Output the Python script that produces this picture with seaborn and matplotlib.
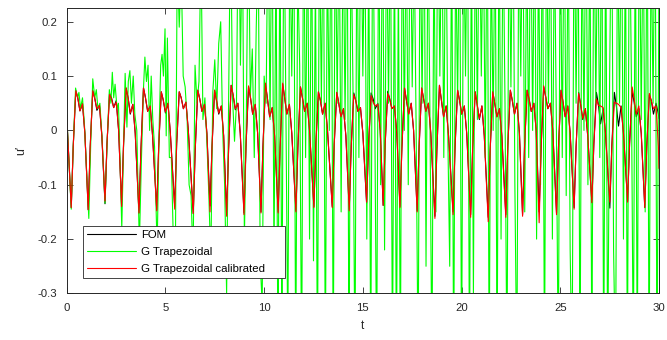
import numpy as np
import pandas as pd
import matplotlib
matplotlib.use("Agg")
import matplotlib.pyplot as plt
import seaborn as sns

# ---- series labels and colours ----
series_names = ["FOM", "G Trapezoidal", "G Trapezoidal calibrated"]
series_colors = ["#000000", "#00ff00", "#ff0000"]

x_ticks = [0, 5, 10, 15, 20, 25, 30]
x_tick_labels = ["0", "5", "10", "15", "20", "25", "30"]
y_ticks = [-0.3, -0.2, -0.1, 0.0, 0.1, 0.2]
y_tick_labels = ["-0.3", "-0.2", "-0.1", "0", "0.1", "0.2"]

# ---- full order model: sample times and u' ----
fom_t = [
    0.00,
    0.23, 0.33, 0.46, 0.56, 0.67, 0.80, 0.92,
    1.09, 1.19, 1.32, 1.42, 1.53, 1.66, 1.78,
    1.94, 2.04, 2.17, 2.27, 2.38, 2.51, 2.63,
    2.78, 2.88, 3.01, 3.11, 3.22, 3.35, 3.47,
    3.66, 3.76, 3.89, 3.99, 4.10, 4.23, 4.35,
    4.56, 4.66, 4.79, 4.89, 5.00, 5.13, 5.25,
    5.47, 5.57, 5.70, 5.80, 5.91, 6.04, 6.16,
    6.41, 6.51, 6.64, 6.74, 6.85, 6.98, 7.10,
    7.26, 7.36, 7.49, 7.59, 7.70, 7.83, 7.95,
    8.10, 8.20, 8.33, 8.43, 8.54, 8.67, 8.79,
    8.98, 9.08, 9.21, 9.31, 9.42, 9.55, 9.67,
    9.84, 9.94, 10.07, 10.17, 10.28, 10.41, 10.53,
    10.71, 10.81, 10.94, 11.04, 11.15, 11.28, 11.40,
    11.61, 11.71, 11.84, 11.94, 12.05, 12.18, 12.30,
    12.52, 12.62, 12.75, 12.85, 12.96, 13.09, 13.21,
    13.45, 13.55, 13.68, 13.78, 13.89, 14.02, 14.14,
    14.31, 14.41, 14.54, 14.64, 14.75, 14.88, 15.00,
    15.19, 15.29, 15.42, 15.52, 15.63, 15.76, 15.88,
    16.03, 16.13, 16.26, 16.36, 16.47, 16.60, 16.72,
    16.88, 16.98, 17.11, 17.21, 17.32, 17.45, 17.57,
    17.75, 17.85, 17.98, 18.08, 18.19, 18.32, 18.44,
    18.65, 18.75, 18.88, 18.98, 19.09, 19.22, 19.34,
    19.57, 19.67, 19.80, 19.90, 20.01, 20.14, 20.26,
    20.46, 20.56, 20.69, 20.79, 20.90, 21.03, 21.15,
    21.35, 21.45, 21.58, 21.68, 21.79, 21.92, 22.04,
    22.24, 22.34, 22.47, 22.57, 22.68, 22.81, 22.93,
    23.09, 23.19, 23.32, 23.42, 23.53, 23.66, 23.78,
    23.93, 24.03, 24.16, 24.26, 24.37, 24.50, 24.62,
    24.81, 24.91, 25.04, 25.14, 25.25, 25.38, 25.50,
    25.70, 25.80, 25.93, 26.03, 26.14, 26.27, 26.39,
    26.60, 26.70, 26.83, 26.93, 27.04, 27.17, 27.29,
    27.51, 27.61, 27.74, 27.84, 27.95, 28.08, 28.20,
    28.41, 28.51, 28.64, 28.74, 28.85, 28.98, 29.10,
    29.28, 29.38, 29.51, 29.61, 29.72, 29.85, 29.97,
    30.00,
]

fom_u = [
    0.028,
    -0.142, -0.030, 0.073, 0.060, 0.036, 0.049, -0.005,
    -0.146, -0.030, 0.073, 0.060, 0.037, 0.046, -0.010,
    -0.135, -0.025, 0.068, 0.060, 0.042, 0.055, 0.000,
    -0.138, -0.025, 0.078, 0.060, 0.030, 0.048, -0.005,
    -0.152, -0.035, 0.078, 0.060, 0.035, 0.045, -0.010,
    -0.146, -0.030, 0.071, 0.056, 0.032, 0.050, -0.005,
    -0.140, -0.025, 0.071, 0.060, 0.040, 0.052, 0.000,
    -0.153, -0.035, 0.074, 0.058, 0.035, 0.048, -0.005,
    -0.139, -0.030, 0.074, 0.055, 0.030, 0.045, -0.010,
    -0.155, -0.035, 0.083, 0.065, 0.038, 0.050, -0.005,
    -0.152, -0.030, 0.080, 0.060, 0.030, 0.048, -0.005,
    -0.150, -0.030, 0.084, 0.058, 0.025, 0.042, -0.010,
    -0.150, -0.030, 0.085, 0.060, 0.030, 0.048, -0.005,
    -0.148, -0.030, 0.080, 0.060, 0.035, 0.050, 0.000,
    -0.140, -0.025, 0.071, 0.055, 0.030, 0.050, 0.000,
    -0.140, -0.025, 0.070, 0.050, 0.025, 0.040, -0.010,
    -0.145, -0.030, 0.069, 0.055, 0.035, 0.042, -0.005,
    -0.134, -0.025, 0.069, 0.058, 0.040, 0.050, 0.000,
    -0.138, -0.025, 0.072, 0.058, 0.040, 0.045, -0.005,
    -0.140, -0.030, 0.078, 0.055, 0.030, 0.050, 0.000,
    -0.148, -0.030, 0.078, 0.058, 0.035, 0.050, -0.005,
    -0.158, -0.035, 0.083, 0.055, 0.025, 0.045, -0.010,
    -0.150, -0.030, 0.074, 0.055, 0.030, 0.045, -0.005,
    -0.155, -0.035, 0.071, 0.048, 0.020, 0.045, -0.010,
    -0.160, -0.035, 0.071, 0.050, 0.025, 0.040, -0.010,
    -0.155, -0.030, 0.074, 0.055, 0.030, 0.050, -0.005,
    -0.155, -0.030, 0.074, 0.058, 0.035, 0.050, 0.000,
    -0.150, -0.030, 0.080, 0.062, 0.040, 0.050, 0.000,
    -0.152, -0.030, 0.074, 0.052, 0.025, 0.045, -0.005,
    -0.142, -0.030, 0.070, 0.048, 0.020, 0.040, -0.010,
    -0.133, -0.025, 0.070, 0.048, 0.012, 0.040, -0.005,
    -0.143, -0.030, 0.070, 0.045, 0.008, 0.045, -0.005,
    -0.130, -0.025, 0.072, 0.052, 0.025, 0.040, -0.005,
    -0.142, -0.030, 0.065, 0.055, 0.030, 0.050, 0.030,
    0.022,
]

# ---- calibrated Galerkin model (same sample times as fom_t) ----
cal_u = [
    0.028,
    -0.142, -0.030, 0.073, 0.060, 0.036, 0.049, -0.005,
    -0.146, -0.030, 0.073, 0.058, 0.040, 0.046, -0.010,
    -0.130, -0.025, 0.066, 0.058, 0.042, 0.052, 0.000,
    -0.140, -0.025, 0.078, 0.060, 0.032, 0.048, -0.005,
    -0.152, -0.035, 0.078, 0.060, 0.035, 0.045, -0.010,
    -0.148, -0.030, 0.071, 0.056, 0.034, 0.050, -0.005,
    -0.145, -0.025, 0.071, 0.060, 0.040, 0.052, 0.000,
    -0.153, -0.035, 0.074, 0.058, 0.035, 0.048, -0.005,
    -0.150, -0.030, 0.074, 0.055, 0.032, 0.045, -0.010,
    -0.158, -0.035, 0.083, 0.065, 0.040, 0.050, -0.005,
    -0.155, -0.030, 0.082, 0.060, 0.030, 0.048, -0.005,
    -0.152, -0.030, 0.087, 0.058, 0.025, 0.042, -0.010,
    -0.152, -0.030, 0.087, 0.060, 0.030, 0.048, -0.005,
    -0.150, -0.030, 0.080, 0.060, 0.035, 0.050, 0.000,
    -0.142, -0.025, 0.071, 0.055, 0.030, 0.050, 0.000,
    -0.142, -0.025, 0.070, 0.050, 0.025, 0.040, -0.010,
    -0.148, -0.030, 0.066, 0.055, 0.035, 0.042, -0.005,
    -0.132, -0.025, 0.064, 0.052, 0.045, 0.048, 0.000,
    -0.138, -0.025, 0.068, 0.058, 0.040, 0.045, -0.005,
    -0.142, -0.030, 0.078, 0.055, 0.030, 0.050, 0.000,
    -0.150, -0.030, 0.078, 0.058, 0.035, 0.050, -0.005,
    -0.162, -0.035, 0.083, 0.055, 0.025, 0.045, -0.010,
    -0.155, -0.030, 0.074, 0.055, 0.030, 0.045, -0.005,
    -0.160, -0.035, 0.071, 0.048, 0.022, 0.045, -0.010,
    -0.168, -0.035, 0.071, 0.050, 0.025, 0.040, -0.010,
    -0.160, -0.030, 0.074, 0.055, 0.030, 0.050, -0.005,
    -0.158, -0.030, 0.074, 0.058, 0.035, 0.050, 0.000,
    -0.170, -0.030, 0.082, 0.062, 0.040, 0.050, 0.000,
    -0.155, -0.030, 0.074, 0.052, 0.025, 0.045, -0.005,
    -0.145, -0.030, 0.068, 0.048, 0.022, 0.040, -0.010,
    -0.133, -0.025, 0.058, 0.046, 0.045, 0.042, -0.005,
    -0.132, -0.030, 0.052, 0.050, 0.048, 0.042, -0.005,
    -0.132, -0.025, 0.080, 0.058, 0.030, 0.045, -0.005,
    -0.142, -0.030, 0.068, 0.055, 0.040, 0.045, -0.030,
    -0.070,
]

# ---- uncalibrated Galerkin model: early transient (irregular samples) ----
gt_t_early = [
    0.00, 0.23, 0.33, 0.45, 0.55, 0.62, 0.70, 0.80, 0.90,
    1.12, 1.22, 1.32, 1.42, 1.50, 1.58, 1.68, 1.80,
    1.94, 2.05, 2.16, 2.24, 2.31, 2.38, 2.45, 2.55, 2.62, 2.70,
    2.79, 2.90, 2.96, 3.05, 3.12, 3.20, 3.28, 3.37, 3.45, 3.55,
    3.68, 3.78, 3.88, 3.96, 4.04, 4.12, 4.20, 4.28, 4.36, 4.45,
    4.58, 4.68, 4.76, 4.83, 4.90, 4.98, 5.04, 5.10, 5.20,
]
gt_u_early = [
    0.030, -0.145, -0.030, 0.078, 0.060, 0.070, 0.040, 0.060, 0.010,
    -0.162, -0.020, 0.095, 0.060, 0.075, 0.040, 0.050, -0.020,
    -0.134, -0.020, 0.075, 0.050, 0.107, 0.060, 0.085, 0.040, 0.050, -0.050,
    -0.180, 0.000, 0.105, 0.006, 0.090, 0.110, 0.050, 0.100, 0.030, 0.000,
    -0.210, -0.060, 0.070, 0.135, 0.090, 0.120, 0.000, 0.100, 0.020, -0.030,
    -0.220, 0.000, 0.120, 0.140, 0.100, 0.187, -0.010, 0.170, -0.050,
]

# ---- uncalibrated Galerkin model: sampled every 0.1 from t = 5.3 ----
gt_t0 = 5.3
gt_dt = 0.1
gt_u_late = [
    -0.05, -0.20, -0.25, 0.32, 0.19, 0.30, 0.10,
    0.08, 0.02, -0.10, -0.12, -0.24, 0.12, 0.05, 0.09, 0.34, 0.02,
    0.06, -0.02, -0.12, -0.24, 0.07, 0.13, 0.04, 0.16, 0.20, 0.00,
    -0.10, -0.30, 0.05, 0.40, 0.06, -0.02, 0.05, 0.45, 0.12, 0.38,
    -0.20, 0.03, 0.42, 0.06, 0.15, -0.05, 0.19, 0.35, -0.24, -0.32,
    0.10, 0.05, 0.42, 0.02, 0.45, -0.25, 0.35, -0.45, 0.40, -0.40,
    0.45, 0.05, -0.40, 0.38, 0.10, 0.42, -0.45, 0.30, 0.12, -0.45,
    0.45, -0.05, 0.40, -0.20, 0.42, -0.24, 0.30, -0.45, 0.40, 0.05,
    0.45, -0.45, 0.35, 0.00, 0.45, -0.45, 0.42, 0.05, 0.40, -0.15,
    0.40, 0.02, 0.45, -0.45, 0.38, 0.08, -0.45, 0.42, -0.05, 0.45,
    0.10, 0.40, -0.20, 0.35, -0.45, 0.45, 0.05, -0.45, 0.42, -0.10,
    0.45, -0.22, 0.40, 0.05, 0.42, -0.45, 0.38, -0.45, 0.30, -0.45,
    0.45, 0.00, 0.40, -0.10, 0.45, 0.08, 0.35, 0.00, -0.45, 0.42,
    0.05, 0.45, -0.25, 0.40, 0.02, -0.45, 0.38, -0.15, 0.45, 0.10,
    0.42, -0.05, 0.45, 0.00, -0.25, 0.40, -0.45, 0.35, 0.05, 0.45,
    -0.45, 0.40, 0.10, 0.45, -0.45, 0.38, -0.30, 0.42, 0.02, 0.45,
    0.10, 0.40, -0.05, 0.45, -0.45, 0.35, 0.00, 0.42, -0.45, 0.45,
    -0.20, 0.40, 0.05, -0.45, 0.42, 0.08, 0.45, -0.10, -0.45, 0.40,
    0.10, 0.45, -0.15, 0.38, -0.05, 0.45, 0.00, 0.42, -0.20, 0.35,
    -0.10, 0.45, -0.45, 0.40, 0.05, 0.45, -0.20, 0.38, 0.02, -0.45,
    0.42, -0.05, 0.45, -0.12, 0.40, -0.22, -0.45, 0.45, 0.05, 0.42,
    -0.45, 0.38, 0.00, 0.45, -0.10, 0.40, -0.45, 0.45, 0.05, 0.40,
    -0.05, 0.45, -0.45, 0.42, -0.45, 0.10, 0.45, -0.22, -0.45, 0.40,
    0.05, 0.45, -0.20, 0.38, -0.45, 0.45, 0.10, -0.45, 0.42, -0.45,
    0.45, 0.02, 0.40, -0.15, 0.45, -0.45, 0.38, 0.05, 0.45, -0.45,
    0.30,
]

# ---- assemble long-form table ----
gt_t_late = np.round(gt_t0 + gt_dt * np.arange(len(gt_u_late)), 2)
gt_t = list(gt_t_early) + list(gt_t_late)
gt_u = list(gt_u_early) + list(gt_u_late)

df = pd.concat([
    pd.DataFrame({"t": fom_t, "u": fom_u, "series": series_names[0]}),
    pd.DataFrame({"t": gt_t, "u": gt_u, "series": series_names[1]}),
    pd.DataFrame({"t": fom_t, "u": cal_u, "series": series_names[2]}),
], ignore_index=True)

# ---- style ----
sns.set_theme(style="ticks")
plt.rcParams["font.family"] = ["Liberation Sans", "DejaVu Sans"]
plt.rcParams["axes.unicode_minus"] = False
ink = "#262626"

fig = plt.figure(figsize=(6.67, 3.40), dpi=100)
ax = fig.add_axes([0.100, 0.137, 0.888, 0.839])

sns.lineplot(
    data=df, x="t", y="u", hue="series", hue_order=series_names,
    palette=series_colors, estimator=None, sort=False,
    linewidth=0.8, ax=ax,
)

ax.set_xlim(0, 30)
ax.set_ylim(-0.3, 0.225)
ax.set_xticks(x_ticks)
ax.set_xticklabels(x_tick_labels)
ax.set_yticks(y_ticks)
ax.set_yticklabels(y_tick_labels)

ax.tick_params(direction="in", length=4, width=0.6, colors=ink,
               labelsize=8.2, top=True, right=True, pad=7)
for s in ax.spines.values():
    s.set_visible(True)
    s.set_color(ink)
    s.set_linewidth(0.7)

ax.set_xlabel("t", fontsize=8.5, color=ink, labelpad=5)
ax.set_ylabel("u\u2032", fontsize=9, color=ink, labelpad=7)

handles, labels = ax.get_legend_handles_labels()
leg = ax.legend(
    handles, labels, loc="lower left",
    bbox_to_anchor=(0.027, 0.053, 0.342, 0.18), mode="expand",
    borderaxespad=0, fontsize=8.2, frameon=True, fancybox=False,
    framealpha=1, edgecolor=ink, handlelength=4.3, handletextpad=0.45,
    labelspacing=0.6, borderpad=0.4,
)
leg.get_frame().set_linewidth(0.6)
for line in leg.get_lines():
    line.set_linewidth(0.8)
for txt in leg.get_texts():
    txt.set_color("#000000")

fig.savefig("out.png", dpi=100)
